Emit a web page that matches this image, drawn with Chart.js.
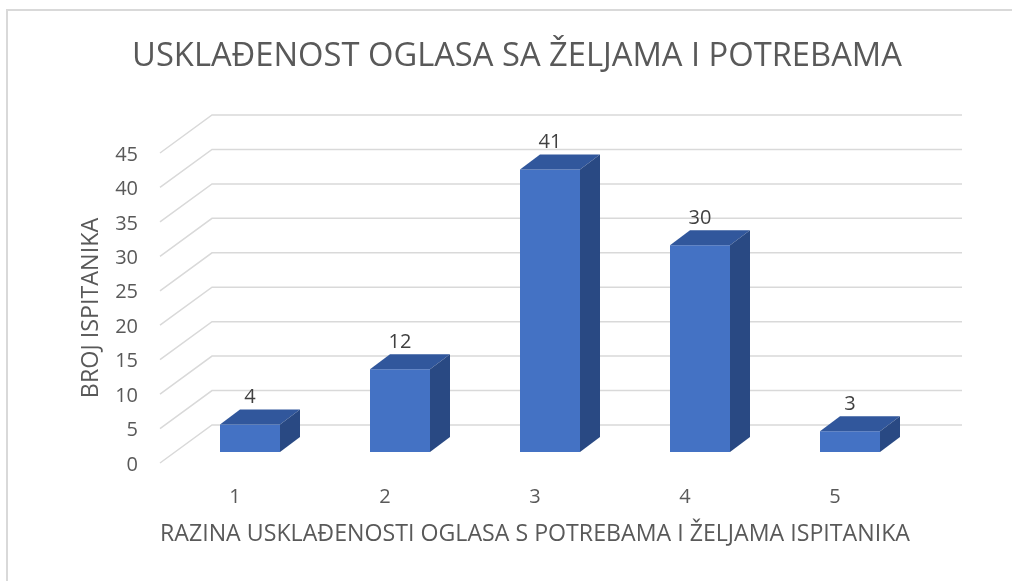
<!DOCTYPE html>
<html lang="hr">
<head>
<meta charset="utf-8">
<title>Usklađenost oglasa sa željama i potrebama</title>
<script src="https://cdn.jsdelivr.net/npm/chart.js@4.4.1/dist/chart.umd.min.js"></script>
<style>
    html, body { margin: 0; padding: 0; background: #fff; overflow: hidden; }
    #wrap { position: relative; width: 1012px; height: 581px; }
    #frame { position: absolute; left: 6px; top: 9px; width: 1100px; height: 700px; border: 2px solid #d9d9d9; box-sizing: border-box; }
    #chart { position: absolute; left: 0; top: 0; }
</style>
</head>
<body>
<div id="wrap">
    <div id="frame"></div>
    <canvas id="chart" width="1012" height="581"></canvas>
</div>
<script>
const categories = ['1', '2', '3', '4', '5'];
const respondents = [4, 12, 41, 30, 3];
const yMin = 0;
const yMax = 45;
const yStep = 5;

const chartTitle = 'USKLAĐENOST OGLASA SA ŽELJAMA I POTREBAMA';
const xAxisTitle = 'RAZINA USKLAĐENOSTI OGLASA S POTREBAMA I ŽELJAMA ISPITANIKA';
const yAxisTitle = 'BROJ ISPITANIKA';

// fake 3d: floor depth, where the bars sit on the floor, and how deep a bar is
const FLOOR_DEPTH = { x: 52, y: -38 };
const BAR_SHIFT = { x: 15, y: -11 };
const BAR_DEPTH = { x: 20, y: -15 };

const COLORS = {
    front: '#4472c4',
    top: '#31579c',
    side: '#294983',
    grid: '#d9d9d9',
    text: '#595959',
    label: '#404040'
};

const fake3d = {
    id: 'fake3d',
    beforeDatasetsDraw(chart) {
        const { ctx, chartArea, scales } = chart;
        ctx.save();
        ctx.strokeStyle = COLORS.grid;
        ctx.lineWidth = 1.5;
        scales.y.ticks.forEach(tick => {
            const py = scales.y.getPixelForValue(tick.value);
            ctx.beginPath();
            ctx.moveTo(chartArea.left, py);
            ctx.lineTo(chartArea.left + FLOOR_DEPTH.x, py + FLOOR_DEPTH.y);
            ctx.lineTo(chartArea.right + FLOOR_DEPTH.x, py + FLOOR_DEPTH.y);
            ctx.stroke();
        });
        ctx.restore();
    },
    beforeDatasetDraw(chart) {
        chart.ctx.save();
        chart.ctx.translate(BAR_SHIFT.x, BAR_SHIFT.y);
    },
    afterDatasetDraw(chart) {
        chart.ctx.restore();
    },
    afterDatasetsDraw(chart) {
        const ctx = chart.ctx;
        const meta = chart.getDatasetMeta(0);
        const values = chart.data.datasets[0].data;
        ctx.save();
        meta.data.forEach((bar, i) => {
            const { x, y, base, width } = bar.getProps(['x', 'y', 'base', 'width'], true);
            const left = x - width / 2 + BAR_SHIFT.x;
            const right = x + width / 2 + BAR_SHIFT.x;
            const top = y + BAR_SHIFT.y;
            const bottom = base + BAR_SHIFT.y;

            ctx.fillStyle = COLORS.top;
            ctx.beginPath();
            ctx.moveTo(left, top);
            ctx.lineTo(right, top);
            ctx.lineTo(right + BAR_DEPTH.x, top + BAR_DEPTH.y);
            ctx.lineTo(left + BAR_DEPTH.x, top + BAR_DEPTH.y);
            ctx.closePath();
            ctx.fill();

            ctx.fillStyle = COLORS.side;
            ctx.beginPath();
            ctx.moveTo(right, top);
            ctx.lineTo(right + BAR_DEPTH.x, top + BAR_DEPTH.y);
            ctx.lineTo(right + BAR_DEPTH.x, bottom + BAR_DEPTH.y);
            ctx.lineTo(right, bottom);
            ctx.closePath();
            ctx.fill();

            ctx.fillStyle = COLORS.label;
            ctx.font = "20px 'Open Sans'";
            ctx.textAlign = 'center';
            ctx.textBaseline = 'middle';
            ctx.fillText(String(values[i]), x + BAR_SHIFT.x, top + BAR_DEPTH.y - 12);
        });
        ctx.restore();
    }
};

Chart.defaults.font.family = "'Open Sans', sans-serif";
Chart.defaults.color = COLORS.text;

new Chart(document.getElementById('chart'), {
    type: 'bar',
    data: {
        labels: categories,
        datasets: [{
            data: respondents,
            backgroundColor: COLORS.front,
            borderWidth: 0,
            barPercentage: 0.4,
            categoryPercentage: 1.0,
            clip: false
        }]
    },
    options: {
        responsive: false,
        animation: false,
        events: [],
        layout: { padding: { left: 22, right: 0, top: 0, bottom: 10 } },
        plugins: {
            legend: { display: false },
            tooltip: { enabled: false },
            title: {
                display: true,
                text: chartTitle,
                color: COLORS.text,
                font: { size: 32.7, weight: 'normal' },
                padding: { top: 36.7, bottom: 77.06 }
            }
        },
        scales: {
            x: {
                afterFit: s => { s.height = 108; },
                grid: { display: false, drawTicks: false },
                border: { display: false },
                ticks: { padding: 22, font: { size: 20 }, color: COLORS.text },
                title: {
                    display: true,
                    text: xAxisTitle,
                    color: COLORS.text,
                    font: { size: 23.3 },
                    padding: { top: 0, bottom: 23 }
                }
            },
            y: {
                min: yMin,
                max: yMax,
                afterFit: s => { s.width = 138; },
                grid: { display: false, drawTicks: false },
                border: { display: false },
                ticks: { stepSize: yStep, padding: 22, labelOffset: 2, font: { size: 20 }, color: COLORS.text },
                title: {
                    display: true,
                    text: yAxisTitle,
                    color: COLORS.text,
                    font: { size: 23.3 },
                    padding: { top: 55, bottom: 0 }
                }
            },
            // empty right-hand box, only keeps room for the back wall
            yRight: {
                position: 'right',
                min: yMin,
                max: yMax,
                afterFit: s => { s.width = 102; },
                grid: { display: false, drawTicks: false },
                border: { display: false },
                ticks: { display: false }
            }
        }
    },
    plugins: [fake3d]
});
</script>
</body>
</html>
